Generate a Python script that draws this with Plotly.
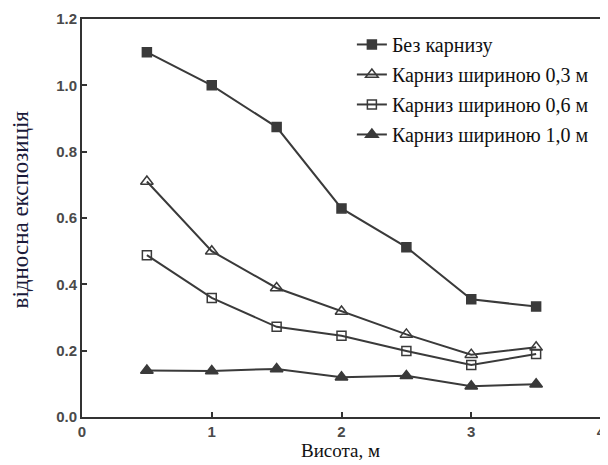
import plotly.graph_objects as go

heights = [0.5, 1.0, 1.5, 2.0, 2.5, 3.0, 3.5]
series_names = ["Без карнизу", "Карниз шириною 0,3 м", "Карниз шириною 0,6 м", "Карниз шириною 1,0 м"]
no_eave = [1.10, 1.00, 0.874, 0.629, 0.512, 0.355, 0.333]
eave_03 = [0.71, 0.50, 0.389, 0.318, 0.249, 0.188, 0.21]
eave_06 = [0.488, 0.359, 0.272, 0.245, 0.199, 0.157, 0.19]
eave_10 = [0.14, 0.139, 0.145, 0.12, 0.124, 0.093, 0.099]
x_ticks = [0, 1, 2, 3, 4]
y_ticks = [0.0, 0.2, 0.4, 0.6, 0.8, 1.0, 1.2]

symbols = ["square", "triangle-up-open", "square-open", "triangle-up"]
values = [no_eave, eave_03, eave_06, eave_10]
line_col = "#3a3a3a"

fig = go.Figure()
for i, (name, vals, sym) in enumerate(zip(series_names, values, symbols)):
    fig.add_trace(go.Scatter(
        x=heights, y=vals, name=name, mode="lines+markers",
        line=dict(color=line_col, width=2),
        marker=dict(symbol=sym, size=9 if "square" in sym else 11, color=line_col,
                    line=dict(color=line_col, width=1.5)),
        legendgroup=f"g{i}",
    ))

axis_common = dict(
    showline=True, linecolor="#333", linewidth=2, mirror=True,
    ticks="inside", ticklen=5, tickcolor="#333", tickwidth=1.5,
    showgrid=False, zeroline=False, ticklabeloverflow="allow",
    tickfont=dict(family="Liberation Sans, Arial", size=15, color="#4a4a4a", weight="bold"),
)

serif = "Liberation Serif, Times New Roman, serif"

fig.update_layout(
    width=600, height=457,
    margin=dict(l=74, r=2, t=8, b=48),
    paper_bgcolor="white", plot_bgcolor="white",
    xaxis=dict(range=[0, 4], tickmode="array", tickvals=x_ticks,
               ticktext=[str(v) for v in x_ticks], **axis_common),
    yaxis=dict(range=[0, 1.2], tickmode="array", tickvals=y_ticks,
               ticktext=[f"{v:.1f}" for v in y_ticks], **axis_common),
    legend=dict(x=0.52, y=0.985, xanchor="left", yanchor="top",
                font=dict(family=serif, size=20, color="#111"),
                bgcolor="rgba(0,0,0,0)", traceorder="grouped", tracegroupgap=1),
    showlegend=True,
    annotations=[
        dict(text="відносна експозиція", xref="paper", yref="paper", x=-0.118, y=0.521,
             textangle=-90, showarrow=False, xanchor="center", yanchor="middle",
             font=dict(family=serif, size=23, color="#1a1a3a")),
        dict(text="Висота, м", xref="paper", yref="paper", x=0.498, y=-0.083,
             showarrow=False, xanchor="center", yanchor="middle",
             font=dict(family=serif, size=19, color="#111")),
    ],
)

fig.write_html("out.html")
